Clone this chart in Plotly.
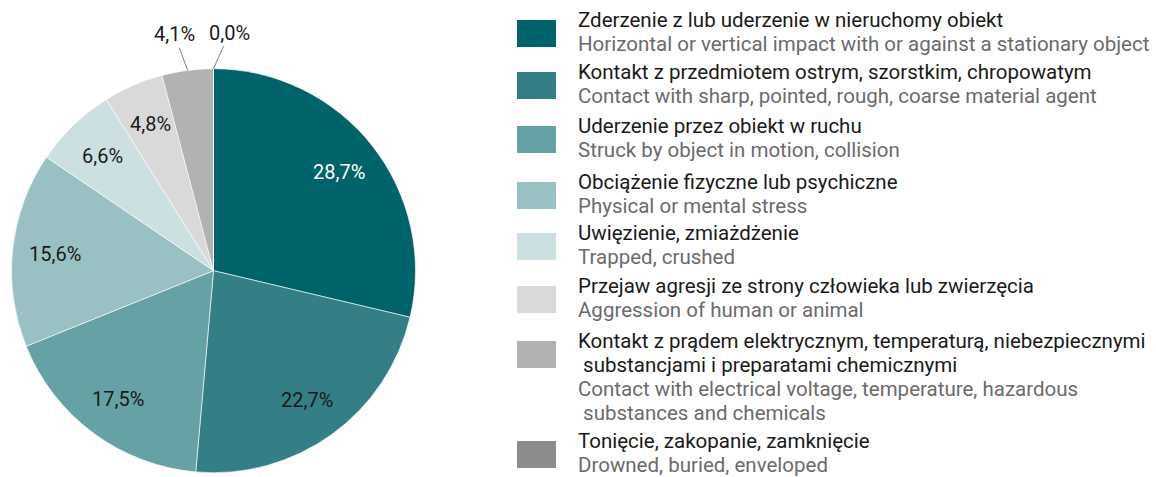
import math
import plotly.graph_objects as go

# Accident causes (share of accidents, %)
labels_pl = [
    "Zderzenie z lub uderzenie w nieruchomy obiekt",
    "Kontakt z przedmiotem ostrym, szorstkim, chropowatym",
    "Uderzenie przez obiekt w ruchu",
    "Obciążenie fizyczne lub psychiczne",
    "Uwięzienie, zmiażdżenie",
    "Przejaw agresji ze strony człowieka lub zwierzęcia",
    "Kontakt z prądem elektrycznym, temperaturą, niebezpiecznymi<br> substancjami i preparatami chemicznymi",
    "Tonięcie, zakopanie, zamknięcie",
]
labels_en = [
    "Horizontal or vertical impact with or against a stationary object",
    "Contact with sharp, pointed, rough, coarse material agent",
    "Struck by object in motion, collision",
    "Physical or mental stress",
    "Trapped, crushed",
    "Aggression of human or animal",
    "Contact with electrical voltage, temperature, hazardous<br> substances and chemicals",
    "Drowned, buried, enveloped",
]
shares = [28.7, 22.7, 17.5, 15.6, 6.6, 4.8, 4.1, 0.0]
colors = ["#00636a", "#337f85", "#66a1a5", "#99c1c3", "#cce0e1",
          "#d9d9d9", "#b2b2b2", "#8c8c8c"]

W, H = 1156, 477
FONT = "Roboto"
DARK = "#1a1a1a"
GREY = "#6b6b6b"
LEGEND_SIZE = 20.5
PIE_LABEL_SIZE = 20

# pie placement (pixels)
cx, cy, R = 213.5, 270.7, 202.0
label_r = 0.79  # radial position of in-slice labels, as a fraction of R

def px(x):
    return x / W

def py(y):
    return 1 - y / H

outside = [False] * 6 + [True] * 2
text_colors = ["white"] + [DARK] * 7

fig = go.Figure(go.Pie(
    labels=[l.split("<br>")[0] for l in labels_pl],
    values=shares,
    sort=False,
    direction="clockwise",
    rotation=0,
    marker=dict(colors=colors, line=dict(color="white", width=0.6)),
    textinfo="none",
    domain=dict(x=[px(cx - R), px(cx + R)], y=[py(cy + R), py(cy - R)]),
    hoverinfo="label+percent",
))

annotations = []
shapes = []

# slice value labels: inside at the slice mid-angle, thin slices outside with a leader line
total = sum(shares)
cum = 0.0
label_offsets = {6: (-13, -36), 7: (16, -36)}
for i, v in enumerate(shares):
    mid = (cum + v / 2) / total * 2 * math.pi
    cum += v
    txt = f"{v:.1f}".replace(".", ",") + "%"
    if outside[i]:
        ex = cx + R * math.sin(mid)
        ey = cy - R * math.cos(mid)
        ax, ay = label_offsets[i]
        annotations.append(dict(
            x=px(ex), y=py(ey), xref="paper", yref="paper",
            text=txt,
            showarrow=True, arrowhead=0, arrowwidth=1, arrowcolor="#7f7f7f",
            ax=ax, ay=ay, standoff=0,
            font=dict(family=FONT, size=PIE_LABEL_SIZE, color=DARK),
        ))
    else:
        lx = cx + label_r * R * math.sin(mid)
        ly = cy - label_r * R * math.cos(mid)
        annotations.append(dict(
            x=px(lx), y=py(ly), xref="paper", yref="paper",
            xanchor="center", yanchor="middle", showarrow=False,
            text=txt,
            font=dict(family=FONT, size=PIE_LABEL_SIZE, color=text_colors[i]),
        ))

# custom two-language legend: swatch, Polish line(s) in black, English line(s) in grey
item_tops = [20, 72, 126, 182, 233, 286, 341, 441]
box_x0, box_x1, box_h = 517, 556, 27
text_x = 576
line_h = 24
for i, top in enumerate(item_tops):
    shapes.append(dict(
        type="rect", xref="paper", yref="paper",
        x0=px(box_x0), x1=px(box_x1), y0=py(top), y1=py(top + box_h),
        fillcolor=colors[i], line=dict(width=0),
    ))
    lines = [(t, DARK) for t in labels_pl[i].split("<br>")] + \
            [(t, GREY) for t in labels_en[i].split("<br>")]
    for k, (t, col) in enumerate(lines):
        annotations.append(dict(
            x=px(text_x), y=py(top + k * line_h), xref="paper", yref="paper",
            xanchor="left", yanchor="middle", align="left", showarrow=False,
            text=t.replace(" ", "\u00a0", 1) if t.startswith(" ") else t,
            font=dict(family=FONT, size=LEGEND_SIZE, color=col),
        ))

fig.update_layout(
    width=W, height=H,
    margin=dict(l=0, r=0, t=0, b=0),
    paper_bgcolor="white", plot_bgcolor="white",
    showlegend=False,
    separators=", ",
    annotations=annotations,
    shapes=shapes,
)

fig.write_html("out.html")
